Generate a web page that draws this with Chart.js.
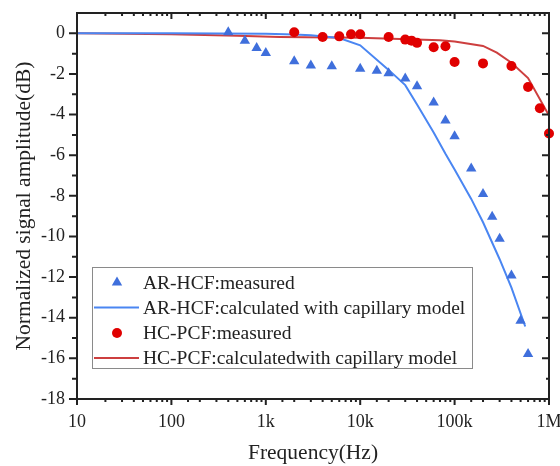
<!DOCTYPE html>
<html>
<head>
<meta charset="utf-8">
<script src="https://cdn.jsdelivr.net/npm/chart.js@4/dist/chart.umd.min.js"></script>
<style>
  html, body { margin: 0; padding: 0; background: #fff; }
  #wrap { width: 560px; height: 466px; }
</style>
</head>
<body>
<div id="wrap"><canvas id="chart" width="560" height="466"></canvas></div>
<script>
/* Normalized signal amplitude vs frequency — AR-HCF / HC-PCF */

// AR-HCF measured (triangles)
const arFreq = [400, 600, 800, 1000, 2000, 3000, 5000, 10000, 15000, 20000, 30000, 40000, 60000, 80000, 100000, 150000, 200000, 250000, 300000, 400000, 500000, 600000];
const arMeasured = [0.05, -0.36, -0.72, -0.97, -1.38, -1.59, -1.62, -1.74, -1.84, -1.97, -2.22, -2.61, -3.4, -4.29, -5.07, -6.66, -7.91, -9.03, -10.11, -11.92, -14.15, -15.78];

// AR-HCF capillary model
const arCalcFreq = [10, 100, 1000, 2000, 3000, 6000, 10000, 20000, 30000, 40000, 60000, 80000, 100000, 150000, 200000, 300000, 400000, 560000];
const arCalc = [0, 0, -0.02, -0.06, -0.1, -0.23, -0.59, -1.8, -2.55, -3.5, -4.88, -5.93, -6.7, -8.15, -9.3, -11.12, -12.52, -14.43];

// HC-PCF measured (circles)
const hcFreq = [2000, 4000, 6000, 8000, 10000, 20000, 30000, 35000, 40000, 60000, 80000, 100000, 200000, 400000, 600000, 800000, 1000000];
const hcMeasured = [0.05, -0.18, -0.15, -0.05, -0.05, -0.18, -0.31, -0.36, -0.47, -0.69, -0.64, -1.41, -1.48, -1.61, -2.64, -3.69, -4.93];

// HC-PCF capillary model
const hcCalcFreq = [10, 100, 500, 1400, 10000, 70000, 100000, 200000, 280000, 400000, 600000, 1000000];
const hcCalc = [0, -0.05, -0.12, -0.18, -0.22, -0.34, -0.4, -0.62, -0.95, -1.45, -2.2, -4.05];

const xTickLabels = { 1: '10', 2: '100', 3: '1k', 4: '10k', 5: '100k', 6: '1M' };
const yMajor = [-18, -16, -14, -12, -10, -8, -6, -4, -2, 0];
const yMinor = [-17, -15, -13, -11, -9, -7, -5, -3, -1];

const seriesNames = [
  'AR-HCF:measured',
  'AR-HCF:calculated with capillary model',
  'HC-PCF:measured',
  'HC-PCF:calculatedwith capillary model'
];

const BLUE_PT = '#3f6fdc';
const BLUE_LN = '#4a86f2';
const RED_PT = '#e00000';
const RED_LN = 'rgba(200,42,42,0.9)';
const INK = '#222';
const SERIF = '"Liberation Serif", "Times New Roman", serif';

const pts = (xs, ys) => xs.map((x, i) => ({ x, y: ys[i] }));

function isDecade(v) {
  const l = Math.log10(v);
  return Math.abs(l - Math.round(l)) < 1e-6;
}

// frame + tick marks + legend
const framePlugin = {
  id: 'frame',
  afterDraw(chart) {
    const { ctx, chartArea: a, scales: { x, y } } = chart;
    ctx.save();
    ctx.strokeStyle = INK;
    ctx.lineWidth = 2;
    ctx.beginPath();
    // x ticks (bottom outward, top inward)
    x.ticks.forEach(t => {
      const px = x.getPixelForValue(t.value);
      const major = isDecade(t.value);
      const len = major ? 6 : 3;
      ctx.moveTo(px, a.bottom); ctx.lineTo(px, a.bottom + len);
      ctx.moveTo(px, a.top); ctx.lineTo(px, a.top + len);
    });
    // y ticks (left outward, right inward)
    yMajor.forEach(v => {
      const py = y.getPixelForValue(v);
      ctx.moveTo(a.left - 8, py); ctx.lineTo(a.left, py);
      ctx.moveTo(a.right - 7, py); ctx.lineTo(a.right, py);
    });
    yMinor.forEach(v => {
      const py = y.getPixelForValue(v);
      ctx.moveTo(a.left - 5, py); ctx.lineTo(a.left, py);
      ctx.moveTo(a.right - 3, py); ctx.lineTo(a.right, py);
    });
    ctx.stroke();
    ctx.strokeRect(a.left, a.top, a.right - a.left, a.bottom - a.top);

    // legend
    const box = { l: 92, t: 267, r: 472, b: 368 };
    ctx.fillStyle = '#fff';
    ctx.fillRect(box.l, box.t, box.r - box.l, box.b - box.t);
    ctx.strokeStyle = '#8a8a8a';
    ctx.lineWidth = 1;
    ctx.strokeRect(box.l + 0.5, box.t + 0.5, box.r - box.l, box.b - box.t);
    const rows = [282.5, 307.5, 333, 358];
    ctx.font = '19.5px ' + SERIF;
    ctx.textBaseline = 'middle';
    ctx.textAlign = 'left';
    rows.forEach((ry, i) => {
      if (i === 0) {
        const r = 6;
        ctx.fillStyle = BLUE_PT;
        ctx.beginPath();
        ctx.moveTo(117, ry - r);
        ctx.lineTo(117 + r * Math.sin(2 * Math.PI / 3), ry - r * Math.cos(2 * Math.PI / 3));
        ctx.lineTo(117 + r * Math.sin(4 * Math.PI / 3), ry - r * Math.cos(4 * Math.PI / 3));
        ctx.closePath();
        ctx.fill();
      } else if (i === 2) {
        ctx.fillStyle = RED_PT;
        ctx.beginPath();
        ctx.arc(117, ry, 5, 0, Math.PI * 2);
        ctx.fill();
      } else {
        ctx.strokeStyle = i === 1 ? BLUE_LN : RED_LN;
        ctx.lineWidth = 2;
        ctx.beginPath();
        ctx.moveTo(94, ry); ctx.lineTo(139, ry);
        ctx.stroke();
      }
      ctx.fillStyle = INK;
      ctx.fillText(seriesNames[i], 143, ry + 1);
    });
    ctx.restore();
  }
};

new Chart(document.getElementById('chart'), {
  type: 'line',
  data: {
    datasets: [
      { label: seriesNames[3], data: pts(hcCalcFreq, hcCalc), borderColor: RED_LN, borderWidth: 2, pointRadius: 0, tension: 0, order: 4 },
      { label: seriesNames[1], data: pts(arCalcFreq, arCalc), borderColor: BLUE_LN, borderWidth: 2, pointRadius: 0, tension: 0, order: 3 },
      { label: seriesNames[0], data: pts(arFreq, arMeasured), showLine: false, clip: false, pointStyle: 'triangle', pointRadius: 6, pointBorderWidth: 0, pointBackgroundColor: BLUE_PT, borderColor: BLUE_PT, order: 2 },
      { label: seriesNames[2], data: pts(hcFreq, hcMeasured), showLine: false, clip: false, pointStyle: 'circle', pointRadius: 5, pointBorderWidth: 0, pointBackgroundColor: RED_PT, borderColor: RED_PT, order: 1 }
    ]
  },
  options: {
    responsive: false,
    animation: false,
    devicePixelRatio: 1,
    layout: { padding: { top: 13, right: 11, left: 0, bottom: 0 } },
    plugins: { legend: { display: false }, tooltip: { enabled: false } },
    scales: {
      x: {
        type: 'logarithmic',
        min: 10,
        max: 1000000,
        grid: { display: false, drawTicks: false },
        border: { display: false },
        ticks: {
          autoSkip: false,
          maxRotation: 0,
          padding: 12,
          color: INK,
          font: { family: SERIF, size: 18 },
          callback: v => isDecade(v) ? xTickLabels[Math.round(Math.log10(v))] : ''
        },
        title: { display: true, text: 'Frequency(Hz)', color: INK, font: { family: SERIF, size: 21.5 }, padding: { top: 0, bottom: 0 } },
        afterFit: s => { s.height = 67; s.paddingLeft = 0; s.paddingRight = 0; }
      },
      y: {
        min: -18,
        max: 1,
        grid: { display: false, drawTicks: false },
        border: { display: false },
        ticks: {
          stepSize: 2,
          includeBounds: false,
          padding: 12,
          color: INK,
          font: { family: SERIF, size: 18 }
        },
        title: { display: true, text: 'Normalized signal amplitude(dB)', color: INK, font: { family: SERIF, size: 21.5 }, padding: { top: 11, bottom: 0 } },
        afterFit: s => { s.width = 77; s.paddingTop = 0; s.paddingBottom = 0; }
      }
    }
  },
  plugins: [framePlugin]
});
</script>
</body>
</html>
